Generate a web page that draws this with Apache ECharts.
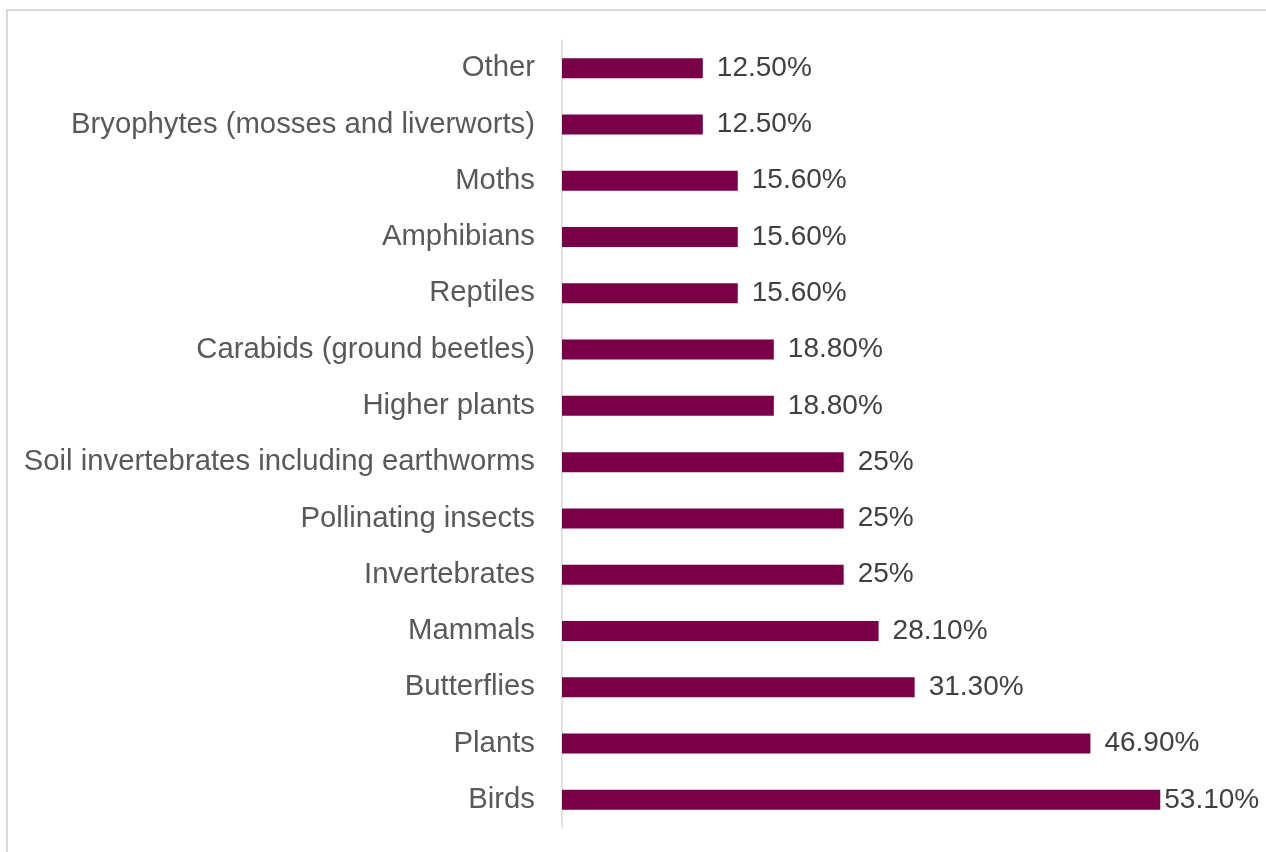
<!DOCTYPE html>
<html>
<head>
<meta charset="utf-8">
<script src="https://cdn.jsdelivr.net/npm/echarts@6/dist/echarts.min.js"></script>
<style>
  html, body { margin: 0; padding: 0; background: #ffffff; }
  #chart { width: 1266px; height: 852px; }
</style>
</head>
<body>
<div id="chart"></div>
<script>
// categories, bottom to top (as the axis draws them)
var categories = [
    "Birds", "Plants", "Butterflies", "Mammals", "Invertebrates",
    "Pollinating insects", "Soil invertebrates including earthworms",
    "Higher plants", "Carabids (ground beetles)", "Reptiles",
    "Amphibians", "Moths", "Bryophytes (mosses and liverworts)", "Other"
];
var shares = [53.1, 46.9, 31.3, 28.1, 25, 25, 25, 18.8, 18.8, 15.6, 15.6, 15.6, 12.5, 12.5];
var shareLabels = ["53.10%", "46.90%", "31.30%", "28.10%", "25%", "25%", "25%",
    "18.80%", "18.80%", "15.60%", "15.60%", "15.60%", "12.50%", "12.50%"];

function draw()
{
    var myChart = echarts.init(document.getElementById('chart'));
    var maxVal = Math.max.apply(null, shares);

    var seriesData = shares.map(function (v, i) {
        var item = { value: v };
        // the longest bar's label sits tight against the bar end, as in the original
        if (v === maxVal) item.label = { distance: 4 };
        return item;
    });

    var option = {
        animation: false,
        backgroundColor: '#ffffff',
        graphic: [{
            type: 'rect',
            shape: { x: 7, y: 10, width: 1400, height: 1000 },
            style: { fill: 'none', stroke: '#d9d9d9', lineWidth: 2 },
            silent: true
        }],
        grid: { left: 562, right: 28, top: 40, bottom: 24, containLabel: false },
        xAxis: {
            type: 'value',
            min: 0,
            max: 60,
            show: false
        },
        yAxis: {
            type: 'category',
            data: categories,
            axisLine: { show: true, lineStyle: { color: '#d9d9d9', width: 1.5 } },
            axisTick: { show: false },
            axisLabel: {
                margin: 27,
                fontFamily: 'Liberation Sans, Arial, sans-serif',
                fontSize: 29.3,
                color: '#595959',
                padding: [4, 0, 0, 0]
            },
            splitLine: { show: false }
        },
        series: [{
            type: 'bar',
            data: seriesData,
            barWidth: 20,
            itemStyle: { color: '#790048' },
            label: {
                show: true,
                position: 'right',
                distance: 14,
                fontFamily: 'Liberation Sans, Arial, sans-serif',
                fontSize: 28,
                color: '#404040',
                padding: [4, 0, 0, 0]
            },
            labelLayout: null
        }]
    };
    option.series[0].label.formatter = function (p) { return shareLabels[p.dataIndex]; };

    myChart.setOption(option);
}

draw();
</script>
</body>
</html>
